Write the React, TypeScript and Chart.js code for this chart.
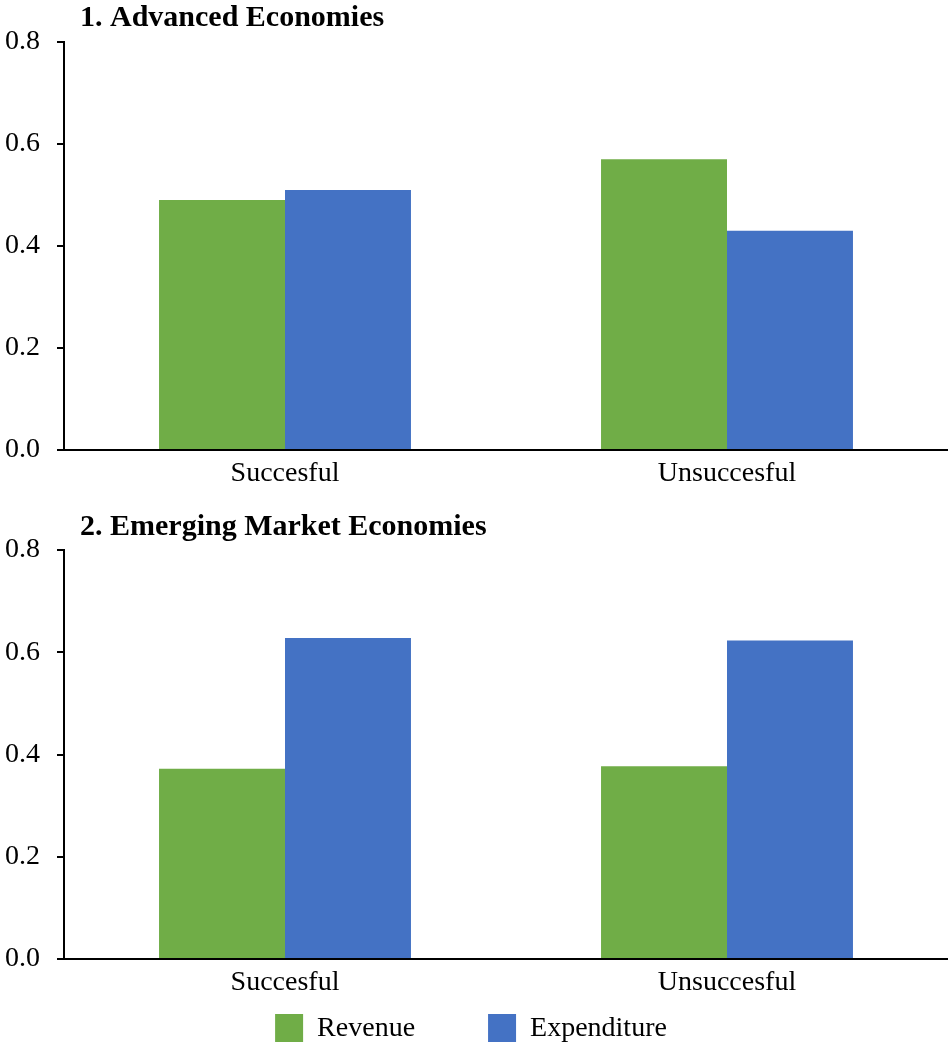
import React, { useEffect, useRef } from "react";
import { Chart, registerables } from "chart.js";

Chart.register(...registerables);

// Categories and series
const categories = ["Succesful", "Unsuccesful"];
const seriesNames = ["Revenue", "Expenditure"];
const seriesColors = ["#70AD47", "#4472C4"];

const advancedRevenue = [0.49, 0.57];
const advancedExpenditure = [0.51, 0.43];

const emergingRevenue = [0.372, 0.377];
const emergingExpenditure = [0.628, 0.623];

const yTicks = [0, 0.2, 0.4, 0.6, 0.8];

const SERIF = "'Liberation Serif', 'Times New Roman', serif";

// Draws a bold panel heading just right of the y axis
const panelTitlePlugin = {
  id: "panelTitle",
  afterDraw(chart: any, _args: any, opts: any) {
    if (!opts || !opts.text) return;
    const { ctx, chartArea } = chart;
    ctx.save();
    ctx.font = `bold 30px ${SERIF}`;
    ctx.fillStyle = "#000";
    ctx.textAlign = "left";
    ctx.textBaseline = "middle";
    ctx.fillText(opts.text, chartArea.left + 16, opts.y);
    ctx.restore();
  },
};

// Draws the shared series key (square swatch + label) centred below the plot
const seriesKeyPlugin = {
  id: "seriesKey",
  afterDraw(chart: any, _args: any, opts: any) {
    if (!opts || !opts.show) return;
    const { ctx } = chart;
    const box = 28;
    const gap = 14;
    const spacing = 73;
    ctx.save();
    ctx.font = `28px ${SERIF}`;
    const items = chart.data.datasets.map((ds: any) => ({
      text: ds.label,
      color: ds.backgroundColor,
      w: box + gap + ctx.measureText(ds.label).width,
    }));
    const total =
      items.reduce((s: number, it: any) => s + it.w, 0) + spacing * (items.length - 1);
    let x = chart.width / 2 - 3 - total / 2;
    const y = opts.y;
    ctx.textBaseline = "middle";
    ctx.textAlign = "left";
    items.forEach((it: any) => {
      ctx.fillStyle = it.color;
      ctx.fillRect(x, y - box / 2, box, box);
      ctx.fillStyle = "#000";
      ctx.fillText(it.text, x + box + gap, y + 1);
      x += it.w + spacing;
    });
    ctx.restore();
  },
};

function makeConfig(
  revenue: number[],
  expenditure: number[],
  title: string,
  titleY: number,
  padTop: number,
  padBottom: number,
  showKey: boolean,
  keyY: number
): any {
  return {
    type: "bar",
    data: {
      labels: categories,
      datasets: [
        {
          label: seriesNames[0],
          data: revenue,
          backgroundColor: seriesColors[0],
          borderWidth: 0,
          categoryPercentage: 0.57,
          barPercentage: 1.0,
        },
        {
          label: seriesNames[1],
          data: expenditure,
          backgroundColor: seriesColors[1],
          borderWidth: 0,
          categoryPercentage: 0.57,
          barPercentage: 1.0,
        },
      ],
    },
    options: {
      responsive: false,
      animation: false,
      devicePixelRatio: 1,
      layout: { padding: { top: padTop, bottom: padBottom, left: 0, right: 0 } },
      plugins: {
        legend: { display: false },
        tooltip: { enabled: false },
        title: { display: false },
        panelTitle: { text: title, y: titleY },
        seriesKey: { show: showKey, y: keyY },
      },
      scales: {
        x: {
          grid: { display: false, drawTicks: false },
          border: { display: true, color: "#000", width: 2 },
          ticks: {
            color: "#000",
            font: { family: SERIF, size: 28 },
            padding: 7,
            maxRotation: 0,
          },
          afterFit(scale: any) {
            scale.height = 50;
          },
        },
        y: {
          min: 0,
          max: 0.8,
          afterBuildTicks(scale: any) {
            scale.ticks = yTicks.map((v) => ({ value: v }));
          },
          grid: {
            display: true,
            drawOnChartArea: false,
            drawTicks: true,
            tickLength: 7,
            color: "#000",
            lineWidth: 2,
          },
          border: { display: true, color: "#000", width: 2 },
          ticks: {
            color: "#000",
            font: { family: SERIF, size: 28 },
            padding: 17,
            callback: (v: any) => Number(v).toFixed(1),
          },
          afterFit(scale: any) {
            scale.width = 64;
          },
        },
      },
    },
    plugins: [panelTitlePlugin, seriesKeyPlugin],
  };
}

function Panel(props: {
  width: number;
  height: number;
  top: number;
  config: any;
}) {
  const ref = useRef<HTMLCanvasElement | null>(null);
  useEffect(() => {
    if (!ref.current) return;
    const chart = new Chart(ref.current, props.config);
    return () => chart.destroy();
  }, []);
  return (
    <canvas
      ref={ref}
      width={props.width}
      height={props.height}
      style={{
        position: "absolute",
        left: 0,
        top: props.top,
        width: props.width,
        height: props.height,
        display: "block",
      }}
    />
  );
}

export default function App() {
  const advanced = makeConfig(
    advancedRevenue,
    advancedExpenditure,
    "1. Advanced Economies",
    18,
    42,
    0,
    false,
    0
  );
  const emerging = makeConfig(
    emergingRevenue,
    emergingExpenditure,
    "2. Emerging Market Economies",
    27,
    50,
    39,
    true,
    528
  );
  return (
    <div
      style={{
        position: "absolute",
        left: 0,
        top: 0,
        width: 948,
        height: 1048,
        background: "#fff",
        overflow: "hidden",
      }}
    >
      <Panel width={948} height={500} top={0} config={advanced} />
      <Panel width={948} height={548} top={500} config={emerging} />
    </div>
  );
}
